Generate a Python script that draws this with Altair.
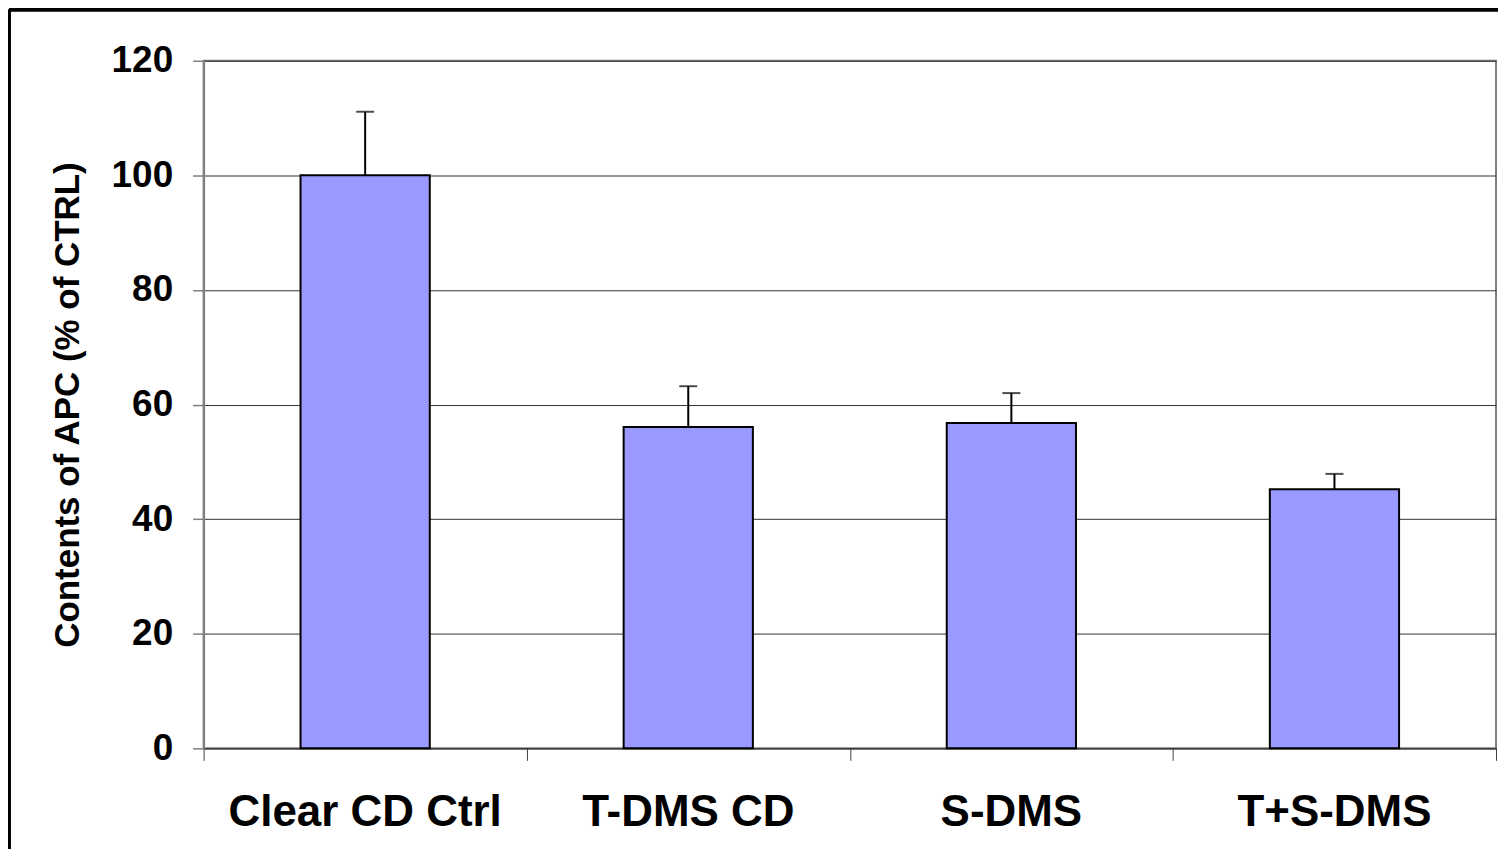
import altair as alt
import pandas as pd

categories = ["Clear CD Ctrl", "T-DMS CD", "S-DMS", "T+S-DMS"]
values = [100.0, 56.1, 56.8, 45.2]
errors = [11.1, 7.1, 5.2, 2.7]
y_ticks = [0, 20, 40, 60, 80, 100, 120]
x_bounds = [0, 1, 2, 3, 4]

W, H = 1295, 689
FONT = "Liberation Sans"

df = pd.DataFrame({
    "cat": categories,
    "pos": [i + 0.5 for i in range(len(categories))],
    "value": values,
    "err": errors,
})
bounds = pd.DataFrame({"b": x_bounds})

xscale = alt.Scale(domain=[0, 4], nice=False, zero=False)
yscale = alt.Scale(domain=[0, 120], nice=False)

base = alt.Chart(df).transform_calculate(
    x0="datum.pos - 0.2", x1="datum.pos + 0.2", top="datum.value + datum.err"
)

bars = base.mark_bar(color="#9999FF", stroke="#000000", strokeWidth=2).encode(
    x=alt.X("x0:Q", scale=xscale,
            axis=alt.Axis(values=x_bounds, labels=False, title=None, grid=False,
                          tickSize=12, tickColor="#404040", tickWidth=1,
                          domainColor="#404040", domainWidth=1.5)),
    x2="x1:Q",
    y=alt.Y("value:Q", scale=yscale,
            axis=alt.Axis(values=y_ticks, title="Contents of APC (% of CTRL)",
                          titleFont=FONT, titleFontSize=35, titleFontWeight="bold",
                          titleColor="#000000", titlePadding=26,
                          labelFont=FONT, labelFontSize=37, labelFontWeight="bold",
                          labelColor="#000000", labelPadding=20,
                          tickSize=11, tickColor="#808080", tickWidth=1.5,
                          domainColor="#808080", domainWidth=2,
                          grid=True, gridColor="#333333", gridWidth=1)),
    y2=alt.value(H),
)

err_line = base.mark_rule(color="#000000", strokeWidth=2).encode(
    x=alt.X("pos:Q", scale=xscale),
    y=alt.Y("value:Q", scale=yscale),
    y2="top:Q",
)

err_cap = base.mark_tick(color="#000000", thickness=2, size=18, orient="horizontal").encode(
    x=alt.X("pos:Q", scale=xscale),
    y=alt.Y("top:Q", scale=yscale),
)

labels = alt.Chart(df).mark_text(
    font=FONT, fontSize=44, fontWeight="bold", color="#000000",
    baseline="alphabetic", align="center"
).encode(
    x=alt.X("pos:Q", scale=xscale),
    y=alt.value(H + 78),
    text="cat:N",
)

panel_left = alt.Chart(bounds).mark_rule(color="#000000", strokeWidth=3).encode(
    x=alt.value(-195), y=alt.value(-51), y2=alt.value(H + 110)
)
panel_top = alt.Chart(bounds).mark_rule(color="#000000", strokeWidth=3).encode(
    x=alt.value(-195), x2=alt.value(W + 10), y=alt.value(-51)
)

chart = alt.layer(bars, err_line, err_cap, labels, panel_left, panel_top).properties(
    width=W, height=H,
    padding={"left": 196, "top": 52, "right": 2, "bottom": 100},
    autosize=alt.AutoSizeParams(type="none"),
    background="#FFFFFF",
).configure_view(stroke="#808080", strokeWidth=2)

chart.save("out.html", embed_options={"renderer": "svg", "actions": False})
